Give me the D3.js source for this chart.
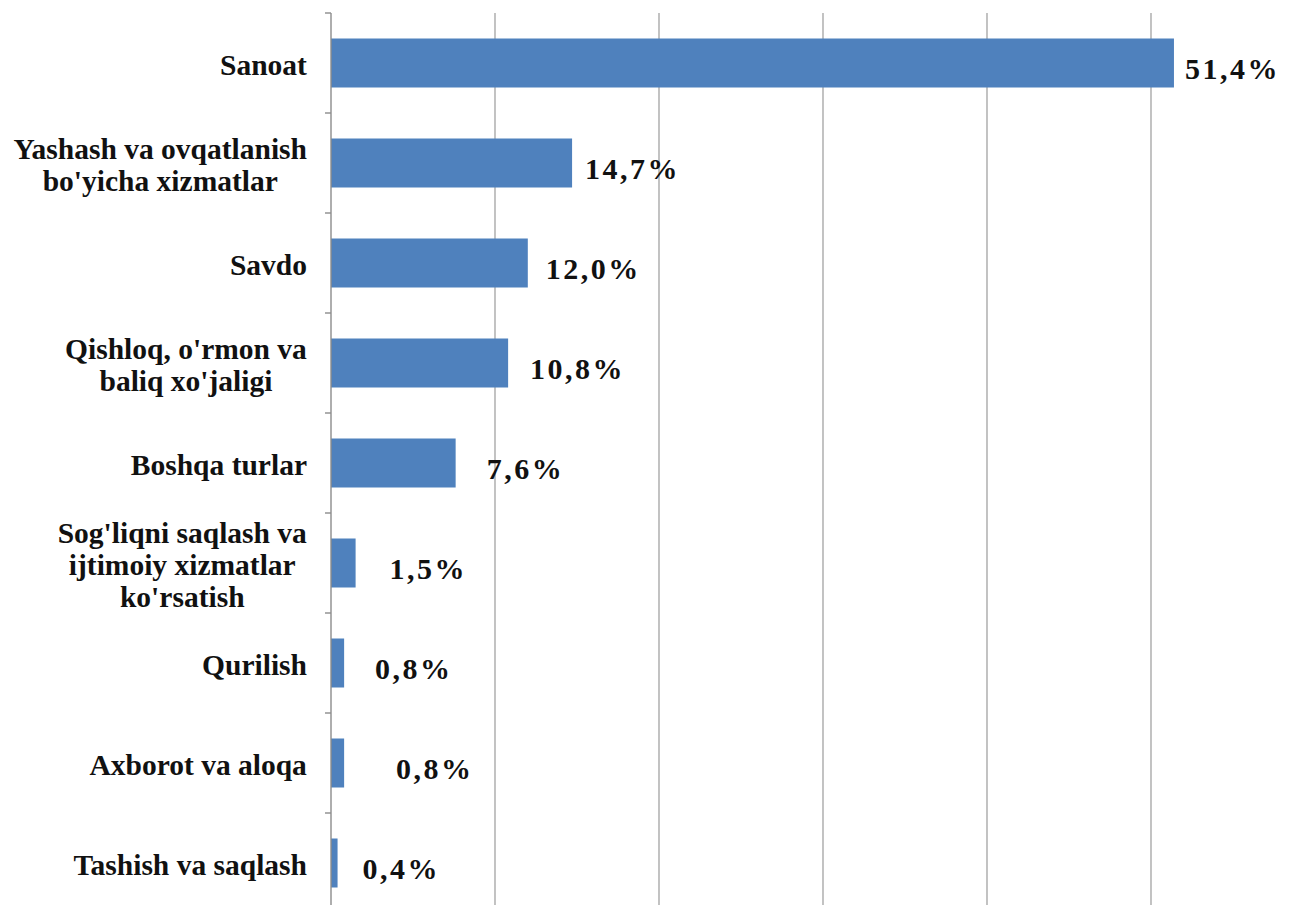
<!DOCTYPE html>
<html><head><meta charset="utf-8">
<script src="https://cdn.jsdelivr.net/npm/d3@7/dist/d3.min.js"></script>
<style>
html,body{margin:0;padding:0;background:#fff;}
svg{display:block;}
text{font-family:"Liberation Serif","Times New Roman",serif;font-weight:bold;fill:#111;}
</style></head>
<body>
<svg id="chart" width="1303" height="905"></svg>
<script>
// ---- data ----
const categories = [
  ["Sanoat"],
  ["Yashash va ovqatlanish", "bo'yicha xizmatlar"],
  ["Savdo"],
  ["Qishloq, o'rmon va", "baliq xo'jaligi"],
  ["Boshqa turlar"],
  ["Sog'liqni saqlash va", "ijtimoiy xizmatlar", "ko'rsatish"],
  ["Qurilish"],
  ["Axborot va aloqa"],
  ["Tashish va saqlash"]
];
const values = [51.4, 14.7, 12.0, 10.8, 7.6, 1.5, 0.8, 0.8, 0.4];
const valueLabels = ["51,4%", "14,7%", "12,0%", "10,8%", "7,6%", "1,5%", "0,8%", "0,8%", "0,4%"];
const xTicks = [0, 10, 20, 30, 40, 50, 60];
// manual label nudges (layout, px beyond bar end)
const labelNudge = [11, 13, 18, 22, 31, 34, 31, 52, 25];

// ---- layout ----
const svg = d3.select("#chart");
const x0 = 331, yTop = 13;
const x = d3.scaleLinear().domain([0, 60]).range([x0, x0 + 984]);
const y = d3.scaleBand().domain(d3.range(categories.length)).range([yTop, yTop + 900]).paddingInner(0.51).paddingOuter(0.255);

// gridlines
svg.append("g").selectAll("line").data(xTicks.filter(d => d > 0)).join("line")
  .attr("x1", d => x(d)).attr("x2", d => x(d))
  .attr("y1", yTop).attr("y2", 905)
  .attr("stroke", "#9a9a9a").attr("stroke-width", 1.2);

// bars
svg.append("g").selectAll("rect").data(values).join("rect")
  .attr("x", x(0)).attr("y", (d, i) => y(i))
  .attr("width", d => x(d) - x(0)).attr("height", y.bandwidth())
  .attr("fill", "#4F81BD");

// y axis line & ticks at band boundaries
svg.append("line").attr("x1", x0).attr("x2", x0).attr("y1", yTop).attr("y2", 905)
  .attr("stroke", "#8c8c8c").attr("stroke-width", 1.4);
svg.append("g").selectAll("line").data(d3.range(categories.length)).join("line")
  .attr("x1", x0 - 6).attr("x2", x0)
  .attr("y1", i => yTop + y.step() * i).attr("y2", i => yTop + y.step() * i)
  .attr("stroke", "#8c8c8c").attr("stroke-width", 1.4);

// category labels
const fs = 29.5, lh = 32, rightEdge = 307;
const catG = svg.append("g");
categories.forEach((lines, i) => {
  const cy = y(i) + y.bandwidth() / 2 + 2;
  const t = catG.append("text").attr("font-size", fs).attr("text-anchor", "middle");
  lines.forEach((ln, j) => {
    t.append("tspan").attr("x", 0)
      .attr("y", cy + (j - (lines.length - 1) / 2) * lh)
      .attr("dy", "0.35em").text(ln);
  });
  const w = t.node().getBBox().width;
  t.selectAll("tspan").attr("x", rightEdge - w / 2);
});

// value labels
svg.append("g").selectAll("text").data(values).join("text")
  .attr("x", (d, i) => x(d) + labelNudge[i])
  .attr("y", (d, i) => y(i) + y.bandwidth() / 2 + 5)
  .attr("dy", "0.35em")
  .attr("font-size", 30).attr("letter-spacing", 2.5)
  .text((d, i) => valueLabels[i]);
</script>
</body></html>
